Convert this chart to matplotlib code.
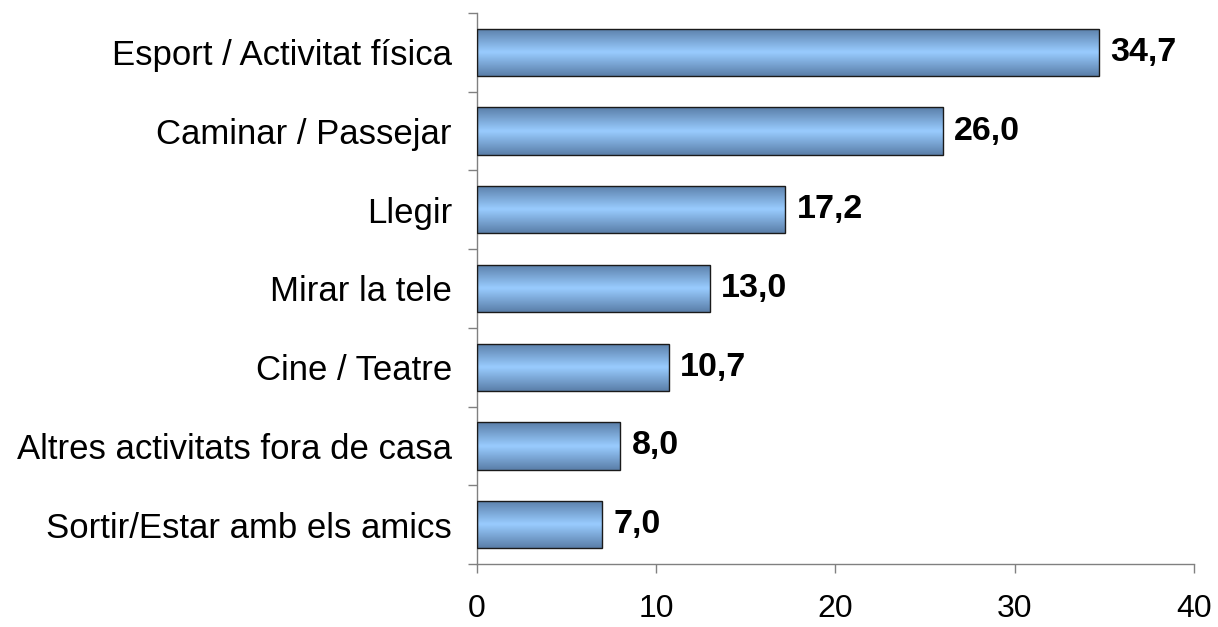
import numpy as np
import matplotlib.pyplot as plt
from matplotlib.colors import LinearSegmentedColormap

categories = ['Esport / Activitat física', 'Caminar / Passejar', 'Llegir',
              'Mirar la tele', 'Cine / Teatre', 'Altres activitats fora de casa',
              'Sortir/Estar amb els amics']
values = [34.7, 26.0, 17.2, 13.0, 10.7, 8.0, 7.0]

plt.rcParams['font.family'] = ['Liberation Sans', 'DejaVu Sans']

fig = plt.figure(figsize=(12.18, 6.27), dpi=100)
ax = fig.add_axes([0.3916, 0.1005, 0.5887, 0.8788])

ypos = np.arange(len(categories))
bars = ax.barh(ypos, values, height=0.6, color='none', edgecolor='#1a1a1a',
               linewidth=1.0, zorder=3)

# vertical gradient: dark edges, light centre
cmap = LinearSegmentedColormap.from_list('bar', ['#5a7ea8', '#99ccff', '#5a7ea8'])
grad = np.linspace(0, 1, 256).reshape(-1, 1)
for b in bars:
    x0, y0 = b.get_x(), b.get_y()
    w, h = b.get_width(), b.get_height()
    im = ax.imshow(grad, cmap=cmap, aspect='auto', extent=[x0, x0 + w, y0, y0 + h],
                   origin='lower', zorder=2, interpolation='bicubic')
    im.set_clip_path(b)

for y, v in zip(ypos, values):
    ax.annotate(f'{v:.1f}'.replace('.', ','), xy=(v, y), xytext=(8, 0),
                textcoords='offset points', va='center', ha='left',
                fontsize=24.5, fontweight='bold', color='black')

ax.set_xlim(0, 40)
ax.set_ylim(len(categories) - 0.5, -0.5)
ax.set_xticks([0, 10, 20, 30, 40])
ax.set_yticks(ypos)
ax.set_yticklabels(categories)
ax.set_yticks(np.arange(-0.5, len(categories)), minor=True)

ax.tick_params(axis='y', which='major', length=0, pad=18, labelsize=25)
ax.tick_params(axis='y', which='minor', length=6.5, width=1, color='#808080', direction='out')
ax.tick_params(axis='x', length=6.5, width=1, color='#808080', direction='out',
               pad=15, labelsize=23)

for s in ['top', 'right']:
    ax.spines[s].set_visible(False)
for s in ['left', 'bottom']:
    ax.spines[s].set_color('#808080')
    ax.spines[s].set_linewidth(1)

fig.savefig('out.png', dpi=100)
